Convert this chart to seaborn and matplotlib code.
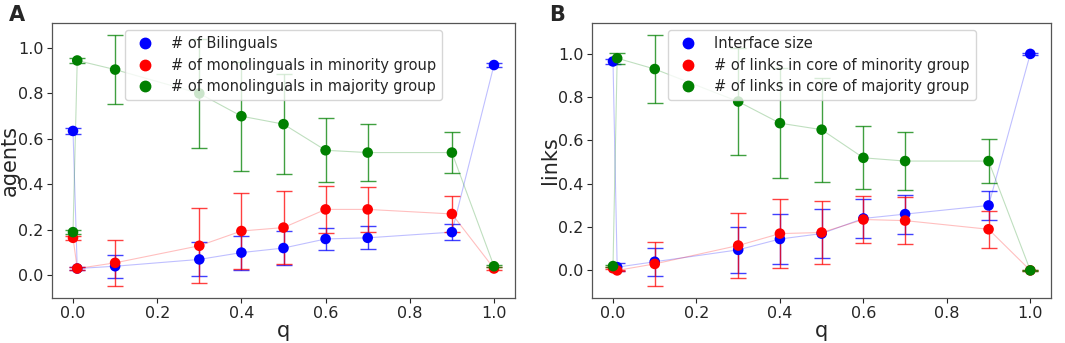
import numpy as np
import pandas as pd
import matplotlib
matplotlib.use("Agg")
import matplotlib.pyplot as plt
import seaborn as sns

sns.set_style("ticks")
plt.rcParams['font.family'] = ['DejaVu Sans']

# q values shared by both panels
q = [0.0, 0.01, 0.1, 0.3, 0.4, 0.5, 0.6, 0.7, 0.9, 1.0]

# Panel A - agents
bilinguals = [0.635, 0.03, 0.04, 0.07, 0.10, 0.12, 0.16, 0.165, 0.19, 0.925]
bilinguals_err = [0.015, 0.008, 0.05, 0.075, 0.075, 0.075, 0.05, 0.05, 0.035, 0.008]
mono_minority = [0.165, 0.03, 0.055, 0.13, 0.195, 0.21, 0.29, 0.29, 0.27, 0.03]
mono_minority_err = [0.01, 0.005, 0.10, 0.165, 0.165, 0.16, 0.105, 0.10, 0.08, 0.005]
mono_majority = [0.19, 0.945, 0.905, 0.80, 0.70, 0.665, 0.55, 0.54, 0.54, 0.04]
mono_majority_err = [0.01, 0.01, 0.15, 0.24, 0.24, 0.22, 0.14, 0.125, 0.09, 0.005]

# Panel B - links
interface = [0.965, 0.015, 0.04, 0.095, 0.145, 0.17, 0.24, 0.26, 0.30, 1.0]
interface_err = [0.01, 0.02, 0.065, 0.105, 0.115, 0.115, 0.09, 0.09, 0.065, 0.003]
core_minority = [0.01, 0.0, 0.03, 0.115, 0.17, 0.175, 0.235, 0.23, 0.19, 0.0]
core_minority_err = [0.005, 0.003, 0.10, 0.15, 0.16, 0.145, 0.11, 0.11, 0.085, 0.002]
core_majority = [0.02, 0.98, 0.93, 0.78, 0.68, 0.65, 0.52, 0.505, 0.505, 0.0]
core_majority_err = [0.005, 0.025, 0.155, 0.245, 0.255, 0.24, 0.145, 0.135, 0.10, 0.002]

colors = ['blue', 'red', 'green']

panels = [
    ('A', 'agents', 0.069,
     [bilinguals, mono_minority, mono_majority],
     [bilinguals_err, mono_minority_err, mono_majority_err],
     ['# of Bilinguals', '# of monolinguals in minority group',
      '# of monolinguals in majority group']),
    ('B', 'links', 0.07,
     [interface, core_minority, core_majority],
     [interface_err, core_minority_err, core_majority_err],
     ['Interface size', '# of links in core of minority group',
      '# of links in core of majority group']),
]

fig = plt.figure(figsize=(10.65, 3.43), dpi=100)
ax_a = fig.add_axes([0.0488, 0.131, 0.4348, 0.802])
ax_b = fig.add_axes([0.556, 0.131, 0.431, 0.802])

for ax, (letter, ylab, ylab_x, series, errs, labels) in zip([ax_a, ax_b], panels):
    handles = []
    for vals, err, col, lab in zip(series, errs, colors, labels):
        df = pd.DataFrame({'q': q, 'value': vals})
        sns.lineplot(data=df, x='q', y='value', color=col, alpha=0.25,
                     lw=0.8, ax=ax, sort=False)
        ax.errorbar(q, vals, yerr=err, fmt='none', ecolor=col, elinewidth=1,
                    capsize=6, capthick=1, alpha=0.75)
        sns.scatterplot(data=df, x='q', y='value', color=col, s=58,
                        edgecolor='none', ax=ax, zorder=3)
        handles.append(plt.Line2D([], [], marker='o', ls='none', color=col,
                                  markersize=7.5, label=lab))
    ax.legend(handles=handles, loc='upper center', fontsize=10.5,
              handlelength=2, handletextpad=0.8, framealpha=0.8,
              borderpad=0.4, labelspacing=0.45)
    ax.set_xlabel('q', fontsize=15, labelpad=0)
    ax.set_ylabel(ylab, fontsize=15)
    ax.yaxis.set_label_coords(-ylab_x, 0.5)
    ax.set_xticks([0.0, 0.2, 0.4, 0.6, 0.8, 1.0])
    ax.tick_params(labelsize=11.5, pad=2.5)
    for sp in ax.spines.values():
        sp.set_color('#555555')
        sp.set_linewidth(0.9)

fig.text(0.008, 0.985, 'A', fontsize=15, fontweight='bold', va='top')
fig.text(0.516, 0.985, 'B', fontsize=15, fontweight='bold', va='top')

fig.savefig('out.png', dpi=100)
